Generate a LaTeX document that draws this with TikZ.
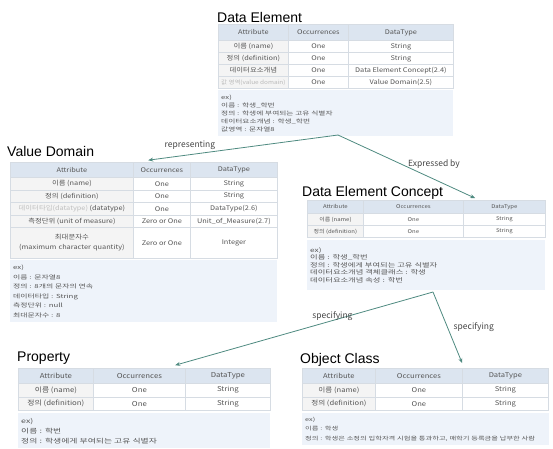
\documentclass[tikz,border=0pt]{standalone}
\usepackage{fontspec}
\setmainfont{Noto Sans CJK KR}
\newfontfamily\titlefont{Liberation Sans}
\newfontfamily\tabfont{Noto Sans CJK KR}[FakeStretch=1.15]
\newfontfamily\exfont{Noto Sans CJK KR}[FakeStretch=1.4]
\usetikzlibrary{arrows.meta,matrix}

\definecolor{headblue}{HTML}{DCE5F0}
\definecolor{exblue}{HTML}{EEF3FA}
\definecolor{cellline}{HTML}{D6DCE3}
\definecolor{attrgray}{HTML}{F4F4F4}
\definecolor{linkteal}{HTML}{4E8A80}
\definecolor{txtgray}{HTML}{555555}

\begin{document}
\begin{tikzpicture}[
  x=1pt, y=-1pt,
  title/.style={anchor=base west, inner sep=0, font=\titlefont\fontsize{14}{15}\selectfont},
  attrtab/.style={matrix of nodes, anchor=north west, inner sep=0,
    column sep=-0.4pt, row sep=-0.4pt,
    nodes={draw=cellline, line width=0.4pt, fill=white, text=txtgray, inner sep=0,
      minimum height=12pt, anchor=center, font=\tabfont\fontsize{6.4}{7.5}\selectfont},
    column 1/.style={nodes={fill=attrgray}},
    row 1/.style={nodes={fill=headblue, minimum height=15pt}}},
  cols/.style n args={3}{column 1/.append style={nodes={minimum width=#1}},
    column 2/.style={nodes={minimum width=#2}},
    column 3/.style={nodes={minimum width=#3}}},
  tabsize/.style={nodes={font=\tabfont\fontsize{#1}{7.5}\selectfont}},
  tallcell/.style={text width=123pt, align=center, font=\tabfont\fontsize{6.4}{10}\selectfont},
  fadedcell/.style={text=gray!55, font=\tabfont\fontsize{5.6}{7}\selectfont},
  exbox/.style={anchor=north west, fill=exblue, text=txtgray, align=left,
    inner xsep=3pt, inner ysep=2pt, font=\exfont\fontsize{5.5}{8}\selectfont},
  link/.style={draw=linkteal, line width=0.8pt, -{Stealth[length=5pt,width=4pt]}},
  linklabel/.style={text=txtgray!80!black, font=\fontsize{8.5}{9}\selectfont, inner sep=1pt}
]
\useasboundingbox (0,0) rectangle (553,448);

% Data Element
\node[title] (detitle) at (217,22) {Data Element};
\matrix[attrtab, cols={70pt}{60pt}{105pt}, row 1/.append style={nodes={minimum height=16pt}}] (de) at (218,24) {
  Attribute & Occurrences & DataType \\
  이름 (name) & One & String \\
  정의 (definition) & One & String \\
  데이터요소개념 & One & Data Element Concept(2.4) \\
  |[fadedcell]| 값 영역(value domain) & One & Value Domain(2.5) \\
};
\node[exbox, text width=229pt, minimum height=46pt] (deex) at (218,90) {
  ex)\\
  이름 : 학생\_학번\\
  정의 : 학생에 부여되는 고유 식별자\\
  데이터요소개념 : 학생\_학번\\
  값영역 : 문자열8};

% Value Domain
\node[title] (vdtitle) at (7,156) {Value Domain};
\matrix[attrtab, cols={123pt}{57pt}{87pt}, row 6/.style={nodes={minimum height=31pt}}, row 2/.style={nodes={minimum height=12.5pt}}, row 3/.style={nodes={minimum height=12.5pt}}, row 4/.style={nodes={minimum height=12.5pt}}, row 5/.style={nodes={minimum height=12.5pt}}] (vd) at (10,162) {
  Attribute & Occurrences & DataType \\
  이름 (name) & One & String \\
  정의 (definition) & One & String \\
  {\color{gray!50}데이터타입(datatype)} (datatype) & One & DataType(2.6) \\
  측정단위 (unit of measure) & Zero or One & Unit\_of\_Measure(2.7) \\
  |[tallcell]| 최대문자수\par(maximum character quantity) & Zero or One & Integer \\
};
\node[exbox, text width=261pt, minimum height=62pt, font=\exfont\fontsize{5.6}{9.5}\selectfont] (vdex) at (10,260) {
  ex)\\
  이름 : 문자열8\\
  정의 : 8개의 문자의 연속\\
  데이터타입 : String\\
  측정단위 : null\\
  최대문자수 : 8};

% Data Element Concept
\node[title] (dectitle) at (302,196) {Data Element Concept};
\matrix[attrtab, tabsize=5.2, cols={56pt}{100pt}{82pt}, row 1/.append style={nodes={minimum height=13pt}}] (dec) at (307,200) {
  Attribute & Occurrences & DataType \\
  이름 (name) & One & String \\
  정의 (definition) & One & String \\
};
\node[exbox, text width=232pt, minimum height=50pt, font=\exfont\fontsize{5.9}{7.4}\selectfont] (decex) at (307,240) {
  ex)\\
  이름 : 학생\_학번\\
  정의 : 학생에게 부여되는 고유 식별자\\
  데이터요소개념 객체클래스 : 학생\\
  데이터요소개념 속성 : 학번};

% Property
\node[title] (proptitle) at (17,361) {Property};
\matrix[attrtab, tabsize=6.8, cols={75pt}{92pt}{85pt}, row 2/.style={nodes={minimum height=13.5pt}}, row 3/.style={nodes={minimum height=13.5pt}}] (prop) at (18,368) {
  Attribute & Occurrences & DataType \\
  이름 (name) & One & String \\
  정의 (definition) & One & String \\
};
\node[exbox, text width=246pt, minimum height=35pt, font=\exfont\fontsize{6.3}{10}\selectfont] (propex) at (18,413) {
  ex)\\
  이름 : 학번\\
  정의 : 학생에게 부여되는 고유 식별자};

% Object Class
\node[title] (octitle) at (300,363) {Object Class};
\matrix[attrtab, tabsize=6.6, cols={73pt}{87pt}{86pt}, row 2/.style={nodes={minimum height=13.5pt}}, row 3/.style={nodes={minimum height=13.5pt}}] (oc) at (302,368) {
  Attribute & Occurrences & DataType \\
  이름 (name) & One & String \\
  정의 (definition) & One & String \\
};
\node[exbox, text width=241pt, minimum height=32pt, font=\exfont\fontsize{5.2}{9.5}\selectfont] (ocex) at (302,413) {
  ex)\\
  이름 : 학생\\
  정의 : 학생은 소정의 입학자격 시험을 통과하고, 매학기 등록금을 납부한 사람};

% connectors
\coordinate (desplit) at (338,135);
\coordinate (decsplit) at (433,292);
\draw[link] (desplit) -- ([xshift=15pt,yshift=2pt]vd-1-2.north west)
  node[linklabel, pos=0.78, above=4pt] {representing};
\draw[link] (desplit) -- ([xshift=12pt,yshift=2pt]dec-1-3.north west)
  node[linklabel, pos=0.7, above=9pt] {Expressed by};
\draw[link] (decsplit) -- ([xshift=-10pt,yshift=3pt]prop-1-3.north west)
  node[linklabel, pos=0.39, above=-1pt] {specifying};
\draw[link] (decsplit) -- ([yshift=5pt]oc-1-3.north west)
  node[linklabel, pos=0.49, right=5pt] {specifying};
\end{tikzpicture}
\end{document}
